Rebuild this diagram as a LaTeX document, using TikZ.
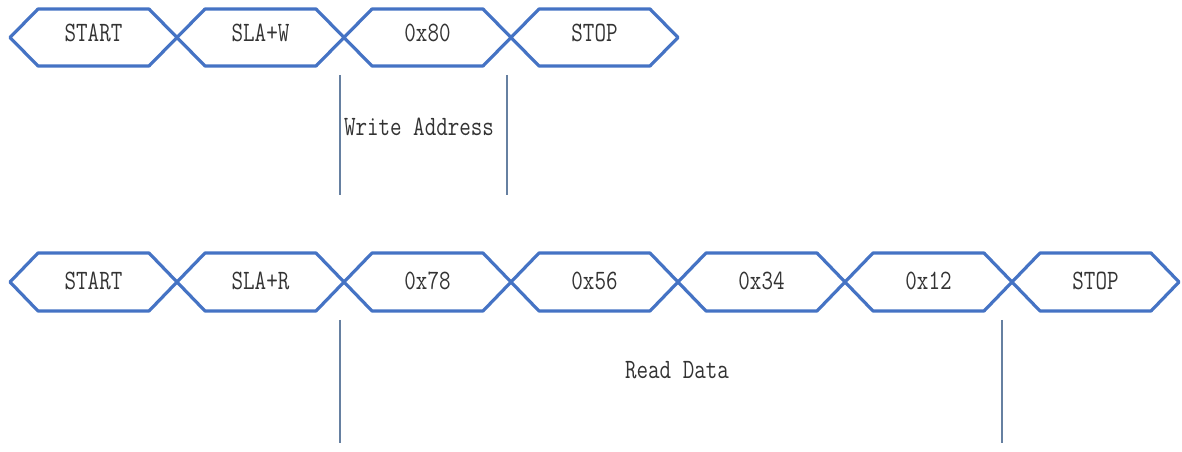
\documentclass[tikz,border=0pt]{standalone}
\usepackage{tikz}
\usepackage{color}
\definecolor{busblue}{rgb}{0.27,0.45,0.77}
\definecolor{markgray}{rgb}{0.40,0.50,0.63}
\newcommand{\cond}[1]{\scalebox{0.8}[1]{#1}}

\begin{document}
\begin{tikzpicture}[x=0.75pt, y=-0.75pt,
    bus/.style={draw=busblue, line width=2.4pt, line join=round},
    lbl/.style={font=\ttfamily\fontsize{21}{21}\selectfont, text=black!80, inner sep=0pt},
    markline/.style={draw=markgray, line width=1pt}]
    \useasboundingbox (0,0) rectangle (1182,452);
    % write frame
    \foreach \lab [count=\i, evaluate=\i as \x using 10+167*(\i-1)] in {START,SLA+W,0x80,STOP}{
    \draw[bus] (\x,37.5) -- ++(28,-28.5) -- ++(111,0) -- ++(28,28.5) -- ++(-28,28.5) -- ++(-111,0) -- cycle;
    \node[lbl] (w\i) at (\x+83.5,33) {\cond{\lab}};
    }
    % read frame
    \foreach \lab [count=\i, evaluate=\i as \x using 10+167*(\i-1)] in {START,SLA+R,0x78,0x56,0x34,0x12,STOP}{
    \draw[bus] (\x,282) -- ++(28,-29) -- ++(111,0) -- ++(28,29) -- ++(-28,29) -- ++(-111,0) -- cycle;
    \node[lbl] (r\i) at (\x+83.5,281) {\cond{\lab}};
    }
    \coordinate (wa1) at (340,75);
    \coordinate (wa2) at (507,75);
    \coordinate (rd1) at (340,320);
    \coordinate (rd2) at (1002,320);
    \draw[markline] (wa1) -- ++(0,120);
    \draw[markline] (wa2) -- ++(0,120);
    \draw[markline] (rd1) -- ++(0,123);
    \draw[markline] (rd2) -- ++(0,123);
    \node[lbl] (wlabel) at (419,127) {\cond{Write Address}};
    \node[lbl] (rlabel) at (677,370) {\cond{Read Data}};
\end{tikzpicture}
\end{document}
